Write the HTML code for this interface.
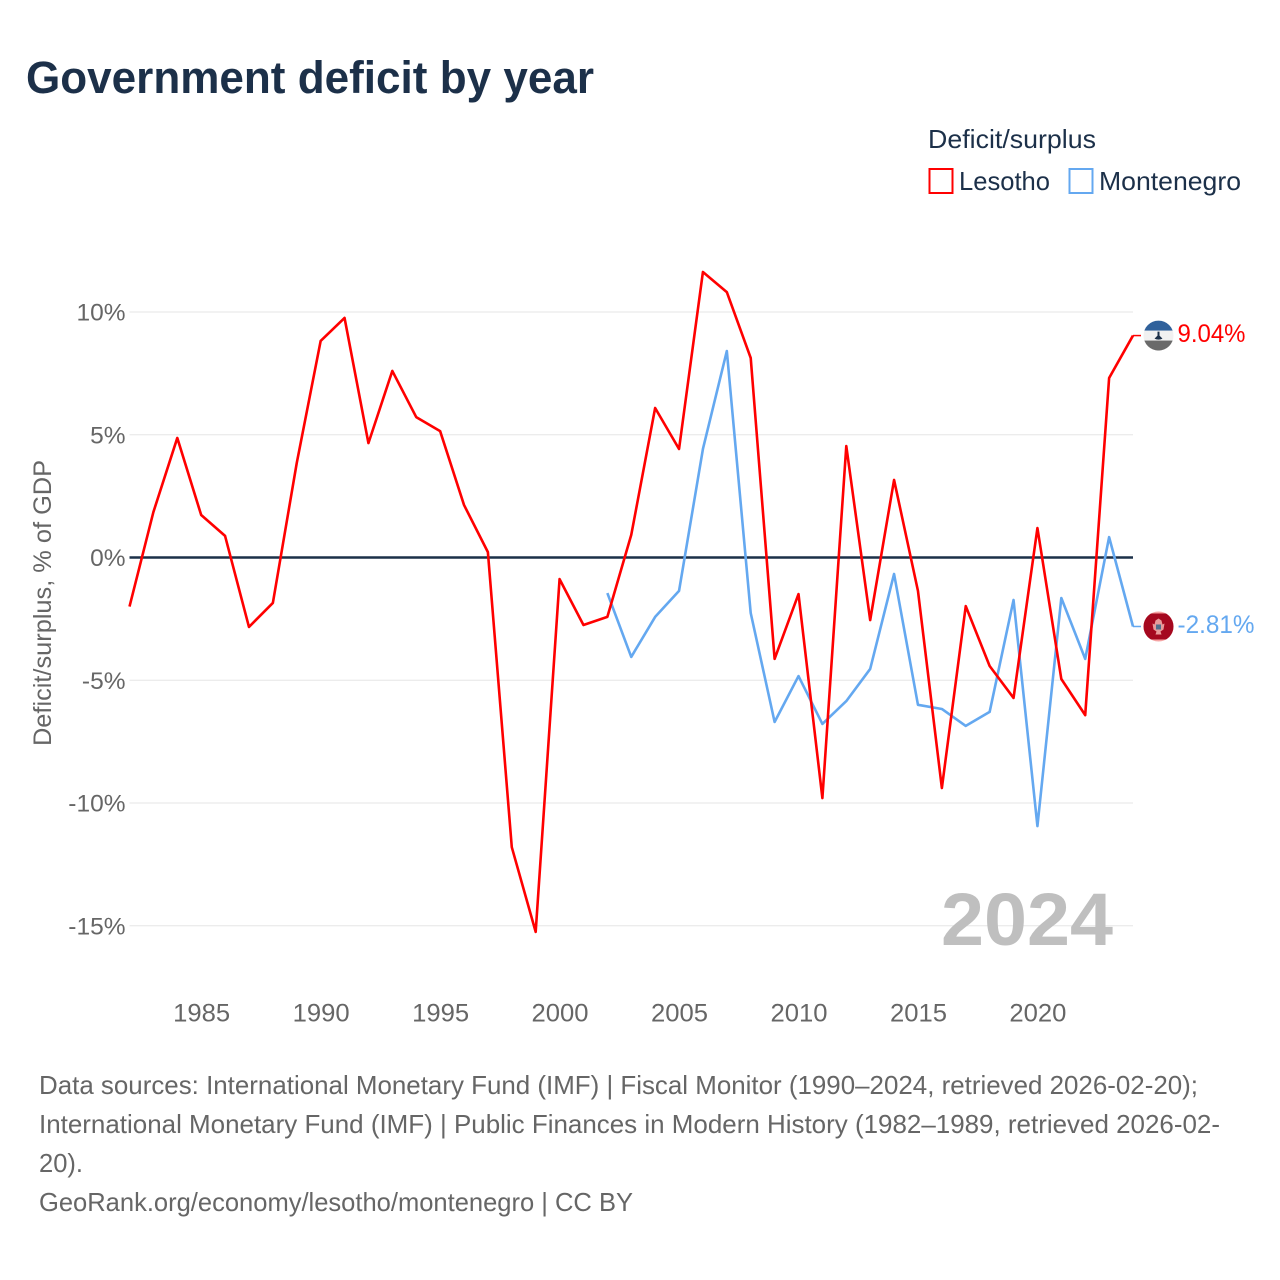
<!DOCTYPE html>
<html lang="en">
<head>
<meta charset="utf-8">
<title>Government deficit by year</title>
<style>
html,body{margin:0;padding:0;background:#fff;width:1280px;height:1280px;overflow:hidden}
svg{display:block}
text{font-family:"Liberation Sans",sans-serif}
</style>
</head>
<body>
<svg id="chart" xmlns="http://www.w3.org/2000/svg" width="1280" height="1280" viewBox="0 0 1280 1280">
  <defs>
    <clipPath id="flag-clip"><circle cx="0" cy="0" r="15"/></clipPath>
  </defs>
  <text x="26" y="93" font-size="45" font-weight="700" fill="#1c3049" textLength="568" lengthAdjust="spacingAndGlyphs">Government deficit by year</text>

  <text x="928" y="148" font-size="26" fill="#1c3049" textLength="168" lengthAdjust="spacingAndGlyphs">Deficit/surplus</text>
  <rect x="929.5" y="169" width="23" height="24" fill="none" stroke="#ff0000" stroke-width="2"/>
  <text x="959" y="190" font-size="26" fill="#1c3049" textLength="91" lengthAdjust="spacingAndGlyphs">Lesotho</text>
  <rect x="1069.5" y="169" width="23" height="24" fill="none" stroke="#64a8f0" stroke-width="2"/>
  <text x="1099" y="190" font-size="26" fill="#1c3049" textLength="142" lengthAdjust="spacingAndGlyphs">Montenegro</text>

  <g id="grid"></g>
  <g id="yticks"></g>
  <g id="xticks"></g>
  <text transform="translate(51,603) rotate(-90)" text-anchor="middle" font-size="25" fill="#666666" textLength="286" lengthAdjust="spacingAndGlyphs">Deficit/surplus, % of GDP</text>

  <text x="1113" y="945" text-anchor="end" font-size="74" font-weight="700" fill="#bfbfbf" textLength="172" lengthAdjust="spacingAndGlyphs">2024</text>

  <g id="series"></g>
  <g id="ends"></g>

  <g font-size="26" fill="#666666">
    <text x="39" y="1094" textLength="1159" lengthAdjust="spacingAndGlyphs">Data sources: International Monetary Fund (IMF) | Fiscal Monitor (1990–2024, retrieved 2026-02-20);</text>
    <text x="39" y="1133" textLength="1181" lengthAdjust="spacingAndGlyphs">International Monetary Fund (IMF) | Public Finances in Modern History (1982–1989, retrieved 2026-02-</text>
    <text x="39" y="1172" textLength="44" lengthAdjust="spacingAndGlyphs">20).</text>
    <text x="39" y="1211" textLength="594" lengthAdjust="spacingAndGlyphs">GeoRank.org/economy/lesotho/montenegro | CC BY</text>
  </g>
</svg>
<script>
const lesothoYears = [1982,1983,1984,1985,1986,1987,1988,1989,1990,1991,1992,1993,1994,1995,1996,1997,1998,1999,2000,2001,2002,2003,2004,2005,2006,2007,2008,2009,2010,2011,2012,2013,2014,2015,2016,2017,2018,2019,2020,2021,2022,2023,2024];
const lesothoValues = [-2.0,1.85,4.87,1.73,0.88,-2.83,-1.85,3.85,8.82,9.76,4.66,7.6,5.72,5.15,2.14,0.22,-11.8,-15.25,-0.88,-2.75,-2.42,0.92,6.09,4.42,11.63,10.81,8.13,-4.13,-1.49,-9.8,4.54,-2.55,3.16,-1.36,-9.39,-1.98,-4.42,-5.72,1.2,-4.95,-6.42,7.31,9.04];
const montenegroYears = [2002,2003,2004,2005,2006,2007,2008,2009,2010,2011,2012,2013,2014,2015,2016,2017,2018,2019,2020,2021,2022,2023,2024];
const montenegroValues = [-1.45,-4.05,-2.42,-1.36,4.42,8.41,-2.26,-6.7,-4.83,-6.78,-5.85,-4.54,-0.67,-6.0,-6.17,-6.86,-6.29,-1.73,-10.94,-1.65,-4.13,0.83,-2.81];
const yTicks = [10,5,0,-5,-10,-15];
const xTicks = [1985,1990,1995,2000,2005,2010,2015,2020];
const lesothoEndLabel = "9.04%";
const montenegroEndLabel = "-2.81%";

const NS = 'http://www.w3.org/2000/svg';
const X0 = 129.5, X1 = 1133, YEAR0 = 1982, YEAR1 = 2024;
const Y_ZERO = 557.5, Y_UNIT = 24.55;
const RED = '#ff0000', BLUE = '#64a8f0';
function xScale(year){ return X0 + (year - YEAR0) * (X1 - X0) / (YEAR1 - YEAR0); }
function yScale(v){ return Y_ZERO - v * Y_UNIT; }
function make(tag, attrs, parent, txt){
  const el = document.createElementNS(NS, tag);
  for (const k in attrs) el.setAttribute(k, attrs[k]);
  if (txt !== undefined) el.textContent = txt;
  parent.appendChild(el);
  return el;
}
const grid = document.getElementById('grid');
const yAxis = document.getElementById('yticks');
const xAxis = document.getElementById('xticks');
const series = document.getElementById('series');
const ends = document.getElementById('ends');

yTicks.forEach(function(t){
  const y = yScale(t);
  const line = make('line', {x1:X0, x2:X1, y1:y, y2:y, stroke: t === 0 ? '#1c3049' : '#e6e6e6', 'stroke-width': t === 0 ? 2.5 : 1}, grid);
  
  
  const label = make('text', {x:125.5, y:y + 8.5, 'text-anchor':'end', 'font-size':24.5, fill:'#666666'}, yAxis, t + '%');
  
  
});
xTicks.forEach(function(t){
  const label = make('text', {x:xScale(t) + 0.5, y:1021.5, 'text-anchor':'middle', 'font-size':25, fill:'#666666', textLength:57, lengthAdjust:'spacingAndGlyphs'}, xAxis, String(t));
  
  
});
function linePath(years, values){
  return years.map(function(yr, i){ return (i ? 'L' : 'M') + xScale(yr).toFixed(2) + ' ' + yScale(values[i]).toFixed(2); }).join(' ');
}
const montenegroLine = make('path', {d:linePath(montenegroYears, montenegroValues), fill:'none', stroke:BLUE, 'stroke-width':2.6, 'stroke-linejoin':'round'}, series);


const lesothoLine = make('path', {d:linePath(lesothoYears, lesothoValues), fill:'none', stroke:RED, 'stroke-width':2.6, 'stroke-linejoin':'round'}, series);



/* Lesotho end marker */
const lesY = yScale(lesothoValues[lesothoValues.length - 1]);
const lesConnector = make('line', {x1:X1, x2:1141, y1:lesY, y2:lesY, stroke:RED, 'stroke-width':1.5}, ends);


const lesFlag = make('g', {transform:'translate(1158.5,' + lesY + ')'}, ends);


const lesClip = make('g', {'clip-path':'url(#flag-clip)'}, lesFlag);
make('rect', {x:-15, y:-15, width:30, height:30, fill:'#f1f1f1'}, lesClip);
make('rect', {x:-15, y:-15, width:30, height:10, fill:'#30619b'}, lesClip);
make('rect', {x:-15, y:5, width:30, height:10, fill:'#6a6a6a'}, lesClip);
make('path', {d:'M-1 -4 H1 V0 L4 3 Q0 5 -4 3 L-1 0 Z', fill:'#1c3049'}, lesClip);
const lesText = make('text', {x:1177.5, y:lesY + 6.5, 'font-size':25, fill:RED, textLength:68, lengthAdjust:'spacingAndGlyphs'}, ends, lesothoEndLabel);



/* Montenegro end marker */
const monY = yScale(montenegroValues[montenegroValues.length - 1]);
const monConnector = make('line', {x1:X1, x2:1141, y1:monY, y2:monY, stroke:BLUE, 'stroke-width':1.5}, ends);


const monFlag = make('g', {transform:'translate(1158.5,' + monY + ')'}, ends);


const monClip = make('g', {'clip-path':'url(#flag-clip)'}, monFlag);
make('rect', {x:-15, y:-15, width:30, height:30, fill:'#f5a3a3'}, monClip);
make('rect', {x:-15, y:-13, width:30, height:26, fill:'#a5081f'}, monClip);
make('path', {d:'M-6 -3 L-4 -2 L-3 -6 L0 -8 L3 -6 L4 -2 L6 -3 L5 3 L2 5 L3 8 L-3 8 L-2 5 L-5 3 Z', fill:'#e89a9a'}, monClip);
make('rect', {x:-2.5, y:-2, width:5, height:5, fill:'#50708c'}, monClip);
const monText = make('text', {x:1177.5, y:monY + 6.5, 'font-size':25, fill:BLUE, textLength:77, lengthAdjust:'spacingAndGlyphs'}, ends, montenegroEndLabel);


</script>
</body>
</html>
